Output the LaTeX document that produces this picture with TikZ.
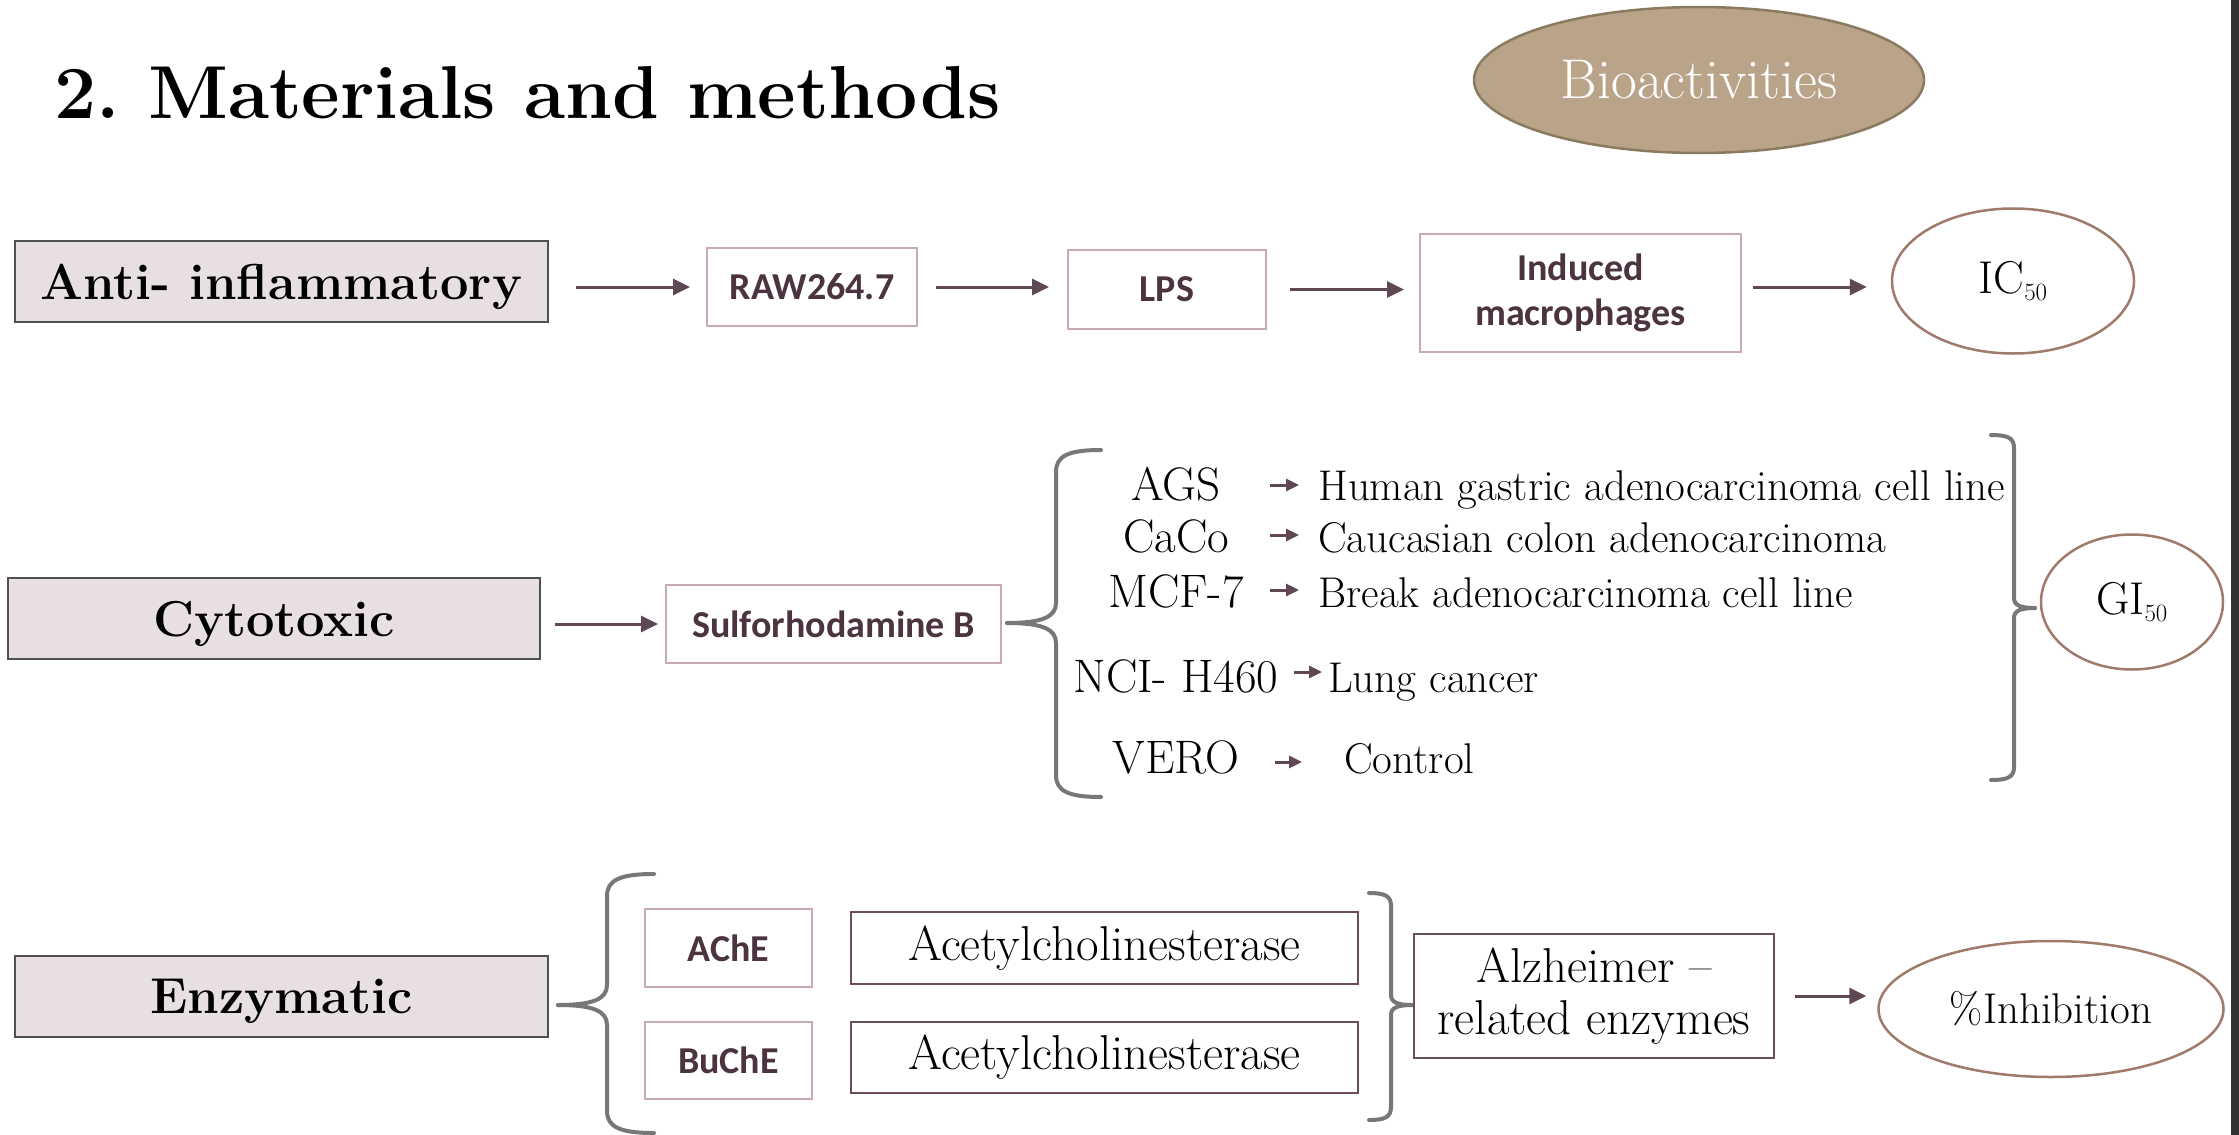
\documentclass[tikz,border=0pt]{standalone}
\usepackage{fontspec}
\newfontfamily\calib{Carlito}
\usetikzlibrary{arrows.meta,shapes.geometric}
\definecolor{catfill}{HTML}{E8DFE3}
\definecolor{catborder}{HTML}{505050}
\definecolor{pinkborder}{HTML}{C8AAB5}
\definecolor{plum}{HTML}{4B3440}
\definecolor{darkborder}{HTML}{6A4E5A}
\definecolor{ellbrown}{HTML}{A07A6A}
\definecolor{arrowcol}{HTML}{5F4753}
\definecolor{bracegray}{HTML}{777777}
\definecolor{biofill}{HTML}{B9A489}
\definecolor{bioborder}{HTML}{8A7A60}
\definecolor{stripgray}{HTML}{333333}
\frenchspacing
\begin{document}
\begin{tikzpicture}[x=1pt,y=-1pt,
  catbox/.style={draw=catborder, fill=catfill, line width=2.5pt, inner sep=0pt, text depth=0pt, font=\fontsize{50.5}{57}\selectfont\bfseries},
  pinkbox/.style={draw=pinkborder, line width=2pt, inner sep=0pt, font=\calib\bfseries\fontsize{38}{45}\selectfont, text=plum, align=center},
  darkbox/.style={draw=darkborder, line width=2.5pt, inner sep=0pt, font=\fontsize{49}{52}\selectfont, align=center},
  resell/.style={ellipse, draw=ellbrown, line width=2.5pt, inner sep=0pt, font=\fontsize{46}{50}\selectfont},
  arr/.style={draw=arrowcol, line width=3pt, -{Triangle[length=17pt,width=16pt]}},
  sarr/.style={draw=arrowcol, line width=3pt, -{Triangle[length=13pt,width=12pt]}},
  brace/.style={draw=bracegray, line width=4pt, line cap=round},
  code/.style={inner sep=0pt, anchor=base, font=\fontsize{47}{52}\selectfont},
  desc/.style={inner sep=0pt, anchor=base west, font=\fontsize{43}{48}\selectfont}]
\useasboundingbox (0,0) rectangle (2239,1135);
\fill[white] (0,0) rectangle (2239,1135);
\fill[stripgray] (2231,0) rectangle (2239,1135);

% title
\node[inner sep=0pt, anchor=base west, font=\fontsize{75}{80}\selectfont\bfseries] (title) at (54,118) {2. Materials and methods};
\node[ellipse, draw=bioborder, fill=biofill, line width=2.5pt, inner sep=0pt, minimum width=450, minimum height=146, text=white, font=\fontsize{56}{60}\selectfont] (bio) at (1699,80) {Bioactivities};

% row 1
\node[catbox, minimum width=533, minimum height=81] (anti) at (281.5,281.5) {Anti- inflammatory};
\node[pinkbox, minimum width=210, minimum height=78] (raw) at (812,287) {RAW264.7};
\node[pinkbox, minimum width=198, minimum height=79] (lps) at (1167,289.5) {LPS};
\node[pinkbox, minimum width=321, minimum height=118] (ind) at (1580.5,293) {Induced\\macrophages};
\node[resell, minimum width=242, minimum height=145] (ic) at (2013,281) {IC$_{50}$};
\draw[arr, shorten <=27pt, shorten >=16pt] (anti.east |- raw.west) -- (raw.west);
\draw[arr, shorten <=18pt, shorten >=18pt] (raw.east) -- (raw.east -| lps.west);
\draw[arr, shorten <=23pt, shorten >=15pt] (lps.east) -- (lps.east -| ind.west);
\draw[arr, shorten <=11pt, shorten >=24pt] (ind.east |- raw.east) -- (ic.west |- raw.east);

% row 2
\node[catbox, minimum width=532, minimum height=81] (cyt) at (274,618.5) {Cytotoxic};
\node[pinkbox, minimum width=335, minimum height=78] (sulf) at (833.5,624) {Sulforhodamine B};
\draw[arr, shorten <=14pt, shorten >=7pt] (cyt.east |- sulf.west) -- (sulf.west);
\draw[brace] (1101,450) .. controls (1068,450) and (1056,456) .. (1056,472) -- (1056,603) .. controls (1056,617) and (1042,623) .. (1007,623);
\draw[brace] (1101,797) .. controls (1068,797) and (1056,791) .. (1056,775) -- (1056,643) .. controls (1056,629) and (1042,623) .. (1007,623);

\node[code] (c1) at (1176,500) {AGS};
\node[code] (c2) at (1176,552) {CaCo};
\node[code] (c3) at (1176,607) {MCF-7};
\node[code] (c4) at (1176,692) {NCI- H460};
\node[code] (c5) at (1176,773) {VERO};
\node[desc] (d1) at (1318,500) {Human gastric adenocarcinoma cell line};
\node[desc] (d2) at (1318,552) {Caucasian colon adenocarcinoma};
\node[desc] (d3) at (1318,607) {Break adenocarcinoma cell line};
\node[desc] (d4) at (1328,692) {Lung cancer};
\node[desc] (d5) at (1344,773) {Control};
\coordinate (s1) at (1270,485);
\coordinate (s2) at (1270,535);
\coordinate (s3) at (1270,590);
\coordinate (s4) at (1294,672);
\coordinate (s5) at (1275,762);
\draw[sarr, shorten >=19pt] (s1) -- (s1 -| d1.west);
\draw[sarr, shorten >=19pt] (s2) -- (s2 -| d2.west);
\draw[sarr, shorten >=19pt] (s3) -- (s3 -| d3.west);
\draw[sarr, shorten >=6pt] (s4) -- (s4 -| d4.west);
\draw[sarr, shorten >=42pt] (s5) -- (s5 -| d5.west);

\draw[brace] (1991,435) .. controls (2008,435) and (2014,438) .. (2014,448) -- (2014,598) .. controls (2014,605) and (2020,608) .. (2035,608);
\draw[brace] (1991,780) .. controls (2008,780) and (2014,777) .. (2014,767) -- (2014,618) .. controls (2014,611) and (2020,608) .. (2035,608);
\node[resell, minimum width=182, minimum height=135] (gi) at (2132,602) {GI$_{50}$};

% row 3
\node[catbox, minimum width=533, minimum height=81] (enz) at (281.5,996.5) {Enzymatic};
\draw[brace] (654,874) .. controls (620,874) and (607,880) .. (607,896) -- (607,985) .. controls (607,999) and (593,1005) .. (558,1005);
\draw[brace] (654,1133) .. controls (620,1133) and (607,1127) .. (607,1111) -- (607,1025) .. controls (607,1011) and (593,1005) .. (558,1005);
\node[pinkbox, minimum width=167, minimum height=78] (ache) at (728.5,948) {AChE};
\node[pinkbox, minimum width=167, minimum height=77] (buche) at (728.5,1060.5) {BuChE};
\node[darkbox, minimum width=507, minimum height=72] (ac1) at (1104.5,948) {Acetylcholinesterase};
\node[darkbox, minimum width=507, minimum height=71] (ac2) at (1104.5,1057.5) {Acetylcholinesterase};
\draw[brace] (1369,893) .. controls (1385,893) and (1391,896) .. (1391,906) -- (1391,995) .. controls (1391,1002) and (1397,1005) .. (1412,1005);
\draw[brace] (1369,1120) .. controls (1385,1120) and (1391,1117) .. (1391,1107) -- (1391,1015) .. controls (1391,1008) and (1397,1005) .. (1412,1005);
\node[darkbox, minimum width=360, minimum height=124] (alz) at (1594,996) {Alzheimer --\\related enzymes};
\node[resell, minimum width=345, minimum height=136, font=\fontsize{43}{48}\selectfont] (inh) at (2051,1009) {\%Inhibition};
\draw[arr, shorten <=20pt, shorten >=11pt] (alz.east) -- (alz.east -| inh.west);
\end{tikzpicture}
\end{document}
